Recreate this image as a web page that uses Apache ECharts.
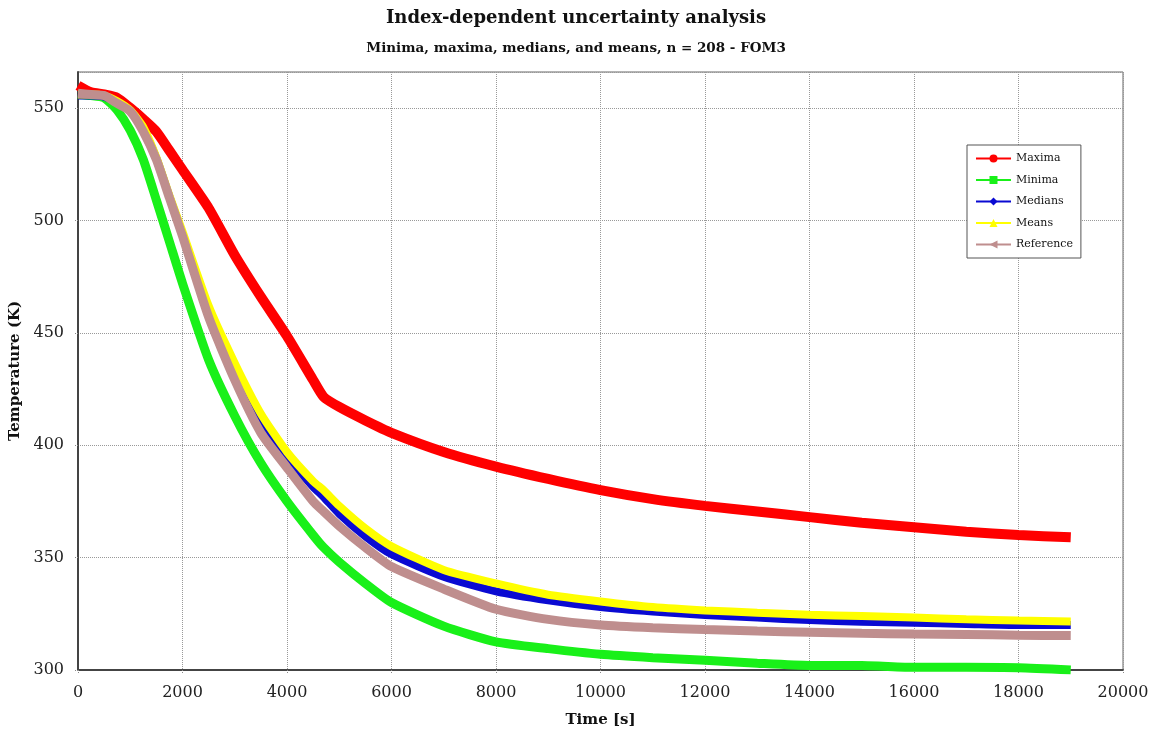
<!DOCTYPE html>
<html>
<head>
<meta charset="utf-8">
<title>Index-dependent uncertainty analysis</title>
<script src="https://cdn.jsdelivr.net/npm/echarts@6/dist/echarts.min.js"></script>
<style>
  html, body { margin: 0; padding: 0; background: #fff; }
  #main { width: 1152px; height: 731px; }
</style>
</head>
<body>
<div id="main"></div>
<script>
// time samples [s]
var times = [0, 250, 500, 750, 1000, 1250, 1500, 1750, 2000, 2500, 3000, 3500, 4000, 4500, 4700,
  5000, 5500, 6000, 7000, 8000, 9000, 10000, 11000, 12000, 13000, 14000, 15000, 16000, 17000, 18000, 19000];

// temperatures [K]
var maxima = [560, 557, 556, 554.5, 550, 545, 539.5, 531, 522.5, 505.5, 484.5, 466, 448.5, 429, 421.5,
  417, 411, 405.5, 397, 390.5, 385, 380, 376, 373, 370.5, 368, 365.5, 363.5, 361.5, 360, 359];
var minima = [556, 555.5, 554.5, 549, 540, 527, 509, 490.5, 472, 438, 413, 392, 375, 360, 354.5,
  348, 338.5, 330, 319.5, 312.5, 309.5, 307, 305.5, 304.3, 303, 302, 302, 301.2, 301.2, 301, 300];
var medians = [555.5, 555.5, 555, 552.5, 548.5, 540.5, 527.5, 510.5, 494, 459.5, 432.5, 411, 395, 381.5, 377,
  369.5, 359.5, 351.5, 341.5, 335, 331, 328, 326, 324.5, 323.3, 322.2, 321.5, 321, 320.5, 320, 320];
var means = [556, 556, 555.5, 553, 549, 541.5, 528, 511, 495, 462, 436.5, 414, 397, 384, 380,
  373, 363, 355, 344.5, 338.5, 333.5, 330.5, 328, 326.5, 325.5, 324.6, 324, 323.3, 322.6, 322, 321.6];
var reference = [556.5, 556, 555.5, 552, 548.5, 539.5, 527, 510, 493, 457, 429, 405.5, 390, 375, 370.5,
  364, 354.5, 346, 336, 327, 322.5, 320, 318.8, 318, 317.3, 316.8, 316.3, 316, 315.8, 315.5, 315.3];

var seriesNames = ['Maxima', 'Minima', 'Medians', 'Means', 'Reference'];
var seriesData = [maxima, minima, medians, means, reference];
var colors = ['#ff0000', '#19f019', '#0a0ad2', '#ffff00', '#bf8e8e'];
var symbols = ['circle', 'rect', 'diamond', 'triangle', 'triangle'];
var rotates = [0, 0, 0, 0, 90];
var widths = [10, 9, 8, 8, 9];

function pairs(ys) {
  return times.map(function (t, i) { return [t, ys[i]]; });
}

var font = 'DejaVu Serif';
var chart = echarts.init(document.getElementById('main'));

var series = seriesNames.map(function (name, i) {
  return {
    name: name,
    type: 'line',
    data: pairs(seriesData[i]),
    smooth: 0.2,
    symbol: symbols[i],
    symbolRotate: rotates[i],
    symbolSize: 9,
    showSymbol: false,
    color: colors[i],
    lineStyle: { width: widths[i], color: colors[i] },
    emphasis: { disabled: true }
  };
});

chart.setOption({
  animation: false,
  backgroundColor: '#fff',
  title: [{
    text: 'Index-dependent uncertainty analysis',
    left: 'center',
    top: 4,
    textStyle: { fontFamily: font, fontSize: 18, fontWeight: 'bold', color: '#111' }
  }, {
    text: 'Minima, maxima, medians, and means, n = 208 - FOM3',
    left: 'center',
    top: 36,
    textStyle: { fontFamily: font, fontSize: 13.5, fontWeight: 'bold', color: '#111' }
  }],
  legend: {
    orient: 'vertical',
    left: 967,
    top: 145,
    padding: [8, 8, 8, 8],
    itemWidth: 35,
    itemHeight: 10,
    itemGap: 10.5,
    backgroundColor: '#fff',
    borderColor: '#555',
    borderWidth: 1,
    textStyle: { fontFamily: font, fontSize: 11, color: '#111' },
    data: seriesNames
  },
  grid: {
    left: 78, right: 29, top: 72, bottom: 61,
    outerBoundsMode: 'none',
    containLabel: false,
    show: true,
    borderColor: '#666',
    borderWidth: 1
  },
  xAxis: {
    type: 'value',
    min: 0,
    max: 20000,
    interval: 2000,
    name: 'Time [s]',
    nameLocation: 'middle',
    nameGap: 43,
    nameTextStyle: { fontFamily: font, fontSize: 15, fontWeight: 'bold', color: '#111' },
    axisLine: { onZero: false, lineStyle: { color: '#444', width: 2 } },
    axisTick: { show: true, length: 4, lineStyle: { color: '#888', type: 'dotted' } },
    axisLabel: {
      fontFamily: font, fontSize: 16, color: '#222', margin: 15,
      formatter: function (v) { return String(v); }
    },
    splitLine: { show: true, lineStyle: { color: '#999', type: 'dotted', width: 1 } }
  },
  yAxis: {
    type: 'value',
    min: 300,
    max: 566,
    interval: 50,
    name: 'Temperature (K)',
    nameLocation: 'middle',
    nameGap: 52,
    nameTextStyle: { fontFamily: font, fontSize: 15, fontWeight: 'bold', color: '#111' },
    axisLine: { onZero: false, lineStyle: { color: '#444', width: 2 } },
    axisTick: { show: true, length: 4, lineStyle: { color: '#888', type: 'dotted' } },
    axisLabel: { fontFamily: font, fontSize: 16, color: '#222', margin: 14, showMaxLabel: false },
    splitLine: { show: true, lineStyle: { color: '#999', type: 'dotted', width: 1 } }
  },
  series: series
});
</script>
</body>
</html>
